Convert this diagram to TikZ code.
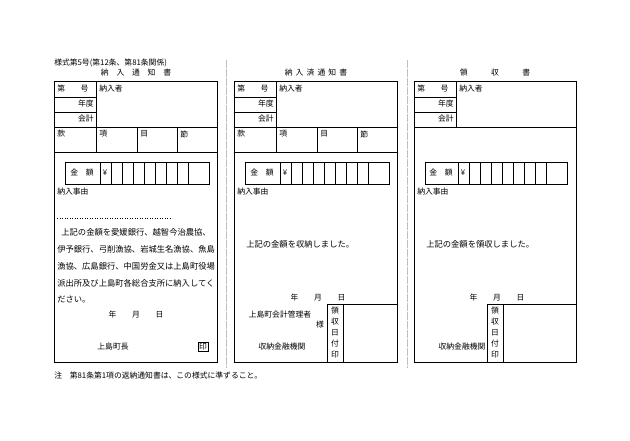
\documentclass[tikz,border=0pt]{standalone}
\usepackage{fontspec}
\setmainfont{Noto Sans CJK JP}
\begin{document}
\begin{tikzpicture}[x=1pt,y=-1pt,line width=0.5pt,
  txt/.style={inner sep=0pt,font=\fontsize{7.8}{8}\selectfont},
  lt/.style={txt,anchor=west},
  rt/.style={txt,anchor=east},
  body/.style={lt,font=\fontsize{8.3}{9}\selectfont},
  cutline/.style={gray!50,line width=0.6pt,dash pattern=on 8pt off 1pt}]
\useasboundingbox (0,0) rectangle (630,440);
\node[lt] (caption) at (54,63) {様式第5号(第12条、第81条関係)};
\draw[cutline] (226,60) -- (226,368);
\draw[cutline] (407,60) -- (407,368);
% form 1 and 2: header, kan-kou-moku-setsu row, amount box
\foreach \ox in {0,180}{
\begin{scope}[xshift=\ox]
\draw (54,81) rectangle (217,362);
\draw (54,97) -- (96,97) (54,112) -- (96,112);
\draw (96,81) -- (96,152);
\draw (54,127) -- (217,127) (54,152) -- (217,152);
\draw (137,127) -- (137,152) (177,127) -- (177,152);
\node[lt] at (57,89) {第　　号};
\node[lt] at (99,89) {納入者};
\node[rt] at (94,104) {年度};
\node[rt] at (94,119) {会計};
\node[lt] at (57,134) {款};
\node[lt] at (99,134) {項};
\node[lt] at (140,134) {目};
\node[lt] at (180,134) {節};
\draw (65,162) rectangle (209,184);
\foreach \i in {0,...,8} \draw (100+\i*11,162) -- (100+\i*11,184);
\node[txt] at (82,173) {金　額};
\node[txt] at (105,173) {¥};
\node[lt] at (57,192) {納入事由};
\end{scope}}
% form 3
\draw (414,81) rectangle (576,362);
\draw (414,97) -- (456,97) (414,112) -- (456,112);
\draw (456,81) -- (456,127);
\draw (414,127) -- (576,127);
\node[lt] at (417,89) {第　　号};
\node[lt] at (459,89) {納入者};
\node[rt] at (454,104) {年度};
\node[rt] at (454,119) {会計};
\draw (425,162) rectangle (567,184);
\foreach \i in {0,...,8} \draw (458+\i*11,162) -- (458+\i*11,184);
\node[txt] at (441,173) {金　額};
\node[txt] at (463,173) {¥};
\node[lt] at (417,192) {納入事由};
% titles
\node[txt] (title1) at (136,73) {納　入　通　知　書};
\node[txt] (title2) at (316,73) {納\hspace{0.4em}入\hspace{0.4em}済\hspace{0.4em}通\hspace{0.4em}知\hspace{0.4em}書};
\node[txt] (title3) at (495,73) {領　　　収　　　書};
% form 1 body
\draw[dotted] (57,218) -- (172,218);
\node[body] at (57,232) {\hspace{0.5em}上記の金額を愛媛銀行、越智今治農協、};
\node[body] at (57,249) {伊予銀行、弓削漁協、岩城生名漁協、魚島};
\node[body] at (57,266) {漁協、広島銀行、中国労金又は上島町役場};
\node[body] at (57,283) {派出所及び上島町各総合支所に納入してく};
\node[body] at (57,299) {ださい。};
\node[txt] at (136,315) {年　　月　　日};
\node[txt] at (113,347) {上島町長};
\node[draw,txt,inner sep=1pt] at (203,347) {印};
% form 2 body
\node[body] at (246,244) {上記の金額を収納しました。};
\node[txt] at (318,298) {年　　月　　日};
\draw (327,304) -- (397,304) (327,304) -- (327,362) (343,304) -- (343,362);
\node[txt,align=center,font=\fontsize{7.8}{11}\selectfont] at (335,333) {領\\収\\日\\付\\印};
\node[txt] at (280,315) {上島町会計管理者};
\node[txt] at (320,325) {様};
\node[txt] at (282,347) {収納金融機関};
% form 3 body
\node[body] at (426,244) {上記の金額を領収しました。};
\node[txt] at (497,298) {年　　月　　日};
\draw (487,304) -- (576,304) (487,304) -- (487,362) (503,304) -- (503,362);
\node[txt,align=center,font=\fontsize{7.8}{11}\selectfont] at (495,333) {領\\収\\日\\付\\印};
\node[txt] at (462,347) {収納金融機関};
\node[lt] (note) at (54,376) {注　第81条第1項の返納通知書は、この様式に準ずること。};
\end{tikzpicture}
\end{document}
